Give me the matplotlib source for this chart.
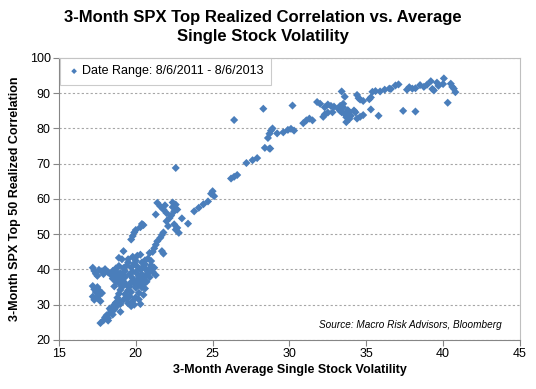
import numpy as np
import matplotlib
matplotlib.use("Agg")
import matplotlib.pyplot as plt

plt.rcParams['font.family'] = ['Liberation Sans', 'DejaVu Sans']

# average single stock vol (x), top 50 realized correlation (y)
# bottom-left dense cluster
low_x = [17.2, 17.3, 17.4, 17.6, 17.5, 17.8, 17.9, 18.0, 18.2, 18.4, 18.5, 18.6, 18.7, 18.8,
         17.2, 17.3, 17.5, 17.4, 17.6, 17.8, 17.2, 17.3, 17.5, 17.7, 17.6,
         17.7, 17.9, 18.0, 18.1, 18.2, 18.3, 18.4, 18.3, 18.5, 18.6, 18.6, 18.7, 18.8, 18.9, 19.0, 18.5, 18.2,
         18.8, 18.9, 19.0, 19.1, 18.9, 19.0, 19.2, 19.1, 19.3, 19.2, 19.4, 19.3, 19.4, 19.5, 19.3,
         19.6, 19.7, 19.6, 19.7, 19.8, 19.6, 19.8, 19.7, 19.9, 20.0, 20.1, 20.0, 20.2, 20.1, 19.9,
         20.0, 20.2, 20.3, 20.4, 20.3, 20.5, 20.4, 20.6, 20.7, 20.6, 20.5, 20.7, 20.8, 20.9, 21.0,
         20.9, 21.1, 21.2, 21.3, 20.4, 20.5, 20.6, 20.2, 20.0, 19.8, 19.5, 19.4, 19.2, 19.0, 19.7,
         19.9, 20.3, 20.2, 20.5, 18.6, 18.7, 18.5, 18.8, 19.0, 18.9, 19.1, 19.5, 19.2, 18.9, 19.5,
         19.8, 20.1, 20.3, 20.6, 20.9, 21.1, 20.8, 21.0]
low_y = [40.5, 39.6, 38.8, 39.9, 38.2, 39.5, 38.7, 40.1, 39.2, 38.4, 39.6, 38.9, 40.3, 39.1,
         35.3, 34.4, 35.0, 33.6, 34.1, 33.3, 32.3, 31.4, 31.9, 31.0, 32.6,
         24.8, 25.6, 26.4, 27.0, 26.2, 27.6, 28.3, 28.9, 29.3, 28.6, 30.0, 30.6, 29.7, 31.2, 28.0, 27.2, 25.5,
         32.0, 33.1, 34.2, 35.0, 36.1, 37.2, 36.6, 38.3, 39.5, 40.4, 41.1, 37.8, 35.6, 34.1, 33.0,
         32.4, 33.6, 35.2, 36.4, 37.5, 38.6, 39.4, 40.6, 41.7, 42.5, 40.8, 39.2, 38.1, 37.0, 36.0,
         34.8, 35.7, 36.8, 38.6, 39.9, 40.9, 42.0, 41.5, 39.8, 38.2, 37.3, 36.5, 38.9, 40.3, 41.2,
         37.8, 39.3, 40.5, 38.4, 34.9, 35.9, 34.6, 33.4, 32.1, 31.1, 30.4, 31.7, 31.4, 30.2, 29.6,
         30.0, 30.2, 31.5, 32.8, 35.2, 36.6, 37.4, 37.9, 39.0, 41.0, 42.9, 42.9, 45.2, 43.3, 42.0,
         43.6, 43.9, 44.2, 42.6, 44.7, 45.0, 43.1, 42.4]

# middle band, 2012 rise
mid_x = [19.7, 19.8, 19.9, 20.0, 20.3, 20.5, 20.4,
         21.2, 21.3, 21.4, 21.6, 21.7, 21.8, 21.8, 21.7,
         21.4, 21.6, 21.3, 21.8, 22.0, 22.4, 22.6, 22.7, 22.5, 22.2, 22.1, 22.5, 22.7, 22.8, 22.6,
         22.0, 22.3, 21.9, 22.4, 23.0, 23.4, 23.8, 24.1, 24.4, 24.7, 24.9, 25.0, 25.1, 22.6,
         26.2, 26.4, 26.6, 27.2, 27.6, 27.9, 28.4, 28.7, 26.4, 28.3, 30.2,
         28.6, 28.7, 28.8, 28.9, 28.75, 29.2, 29.6, 29.9, 30.1, 30.3]
mid_y = [48.5, 49.5, 50.5, 51.2, 52.0, 52.6, 52.9,
         46.0, 47.0, 48.0, 49.0, 49.8, 50.5, 44.5, 45.2,
         58.9, 57.9, 55.6, 57.0, 56.0, 59.0, 58.4, 57.0, 56.5, 54.6, 52.3, 52.8, 51.8, 50.4, 51.3,
         53.7, 55.3, 58.2, 57.7, 54.5, 53.0, 56.5, 57.5, 58.5, 59.3, 61.5, 62.2, 60.8, 68.8,
         65.8, 66.3, 66.8, 70.2, 71.0, 71.6, 74.5, 74.3, 82.4, 85.6, 86.5,
         77.3, 78.5, 79.4, 80.0, 74.3, 78.6, 78.9, 79.6, 79.9, 79.4]

# upper-right cluster
high_x = [30.9, 31.1, 31.3, 31.5, 31.8, 32.0, 32.2, 32.3, 32.3, 32.5, 32.7, 32.9, 32.5, 32.8,
          33.4, 33.6, 33.2, 33.3, 33.5, 33.4, 33.6, 33.7, 33.7, 33.9, 34.0, 34.2, 34.3, 33.9, 33.8,
          34.4, 34.6, 34.8, 33.5, 33.3, 34.4, 34.5, 34.6, 34.8, 35.2, 35.3, 35.3, 35.4, 35.6, 35.9,
          35.8, 36.2, 36.5, 36.6, 36.9, 37.1, 37.4, 37.65, 37.8, 38.0, 38.2, 38.2, 38.5, 38.75,
          38.95, 39.2, 39.3, 39.4, 39.6, 39.7, 40.0, 40.05, 40.3, 40.5, 40.6, 40.7, 40.8]
high_y = [81.5, 82.3, 82.8, 82.3, 87.5, 87.0, 83.3, 84.0, 86.0, 86.8, 86.4, 86.2, 84.5, 84.6,
          90.5, 89.0, 85.5, 85.0, 86.0, 84.6, 84.1, 83.2, 81.8, 82.7, 83.6, 85.1, 84.6, 84.6, 85.2,
          82.8, 83.3, 83.8, 87.0, 86.4, 89.5, 88.6, 88.2, 87.8, 88.3, 88.8, 85.4, 90.4, 90.6, 90.5,
          83.6, 91.0, 91.3, 91.2, 92.2, 92.5, 85.0, 91.0, 91.7, 91.3, 84.8, 91.4, 92.3, 91.8,
          92.4, 93.4, 91.2, 90.8, 93.0, 92.1, 92.6, 94.2, 87.3, 92.7, 91.8, 91.3, 90.3]

vol = np.array(low_x + mid_x + high_x)
corr = np.array(low_y + mid_y + high_y)

fig = plt.figure(figsize=(5.36, 3.89), dpi=100)
ax = fig.add_axes([0.110, 0.126, 0.860, 0.725])

ax.scatter(vol, corr, marker='D', s=17, color='#4A7EBB', edgecolors='none',
           label='Date Range: 8/6/2011 - 8/6/2013', zorder=3)

ax.set_xlim(15, 45)
ax.set_ylim(20, 100)
ax.set_xticks(np.arange(15, 46, 5))
ax.set_yticks(np.arange(20, 101, 10))
ax.yaxis.grid(True, linestyle=(0, (2, 2)), color='#A6A6A6', linewidth=0.8)
ax.set_axisbelow(True)
ax.tick_params(direction='out', length=4, color='#868686', labelsize=9, pad=2)
for side in ['left', 'bottom']:
    ax.spines[side].set_color('#868686')
for side in ['top', 'right']:
    ax.spines[side].set_color('#BFBFBF')

ax.set_xlabel('3-Month Average Single Stock Volatility', fontsize=9, fontweight='bold', labelpad=3)
ax.set_ylabel('3-Month SPX Top 50 Realized Correlation', fontsize=9, fontweight='bold', labelpad=6)

fig.suptitle('3-Month SPX Top Realized Correlation vs. Average\nSingle Stock Volatility',
             fontsize=12, fontweight='bold', x=0.49, y=0.975, linespacing=1.35)

leg = ax.legend(loc='upper left', bbox_to_anchor=(0.003, 1.0), borderaxespad=0, fontsize=9,
                frameon=True, fancybox=False, edgecolor='#BFBFBF', handletextpad=0.1,
                handlelength=1.0, borderpad=0.6, markerscale=0.7)
leg.get_frame().set_linewidth(0.8)

ax.text(0.961, 0.035, 'Source: Macro Risk Advisors, Bloomberg', transform=ax.transAxes,
        ha='right', va='bottom', fontsize=7.2, style='italic')

fig.savefig('out.png', dpi=100)
